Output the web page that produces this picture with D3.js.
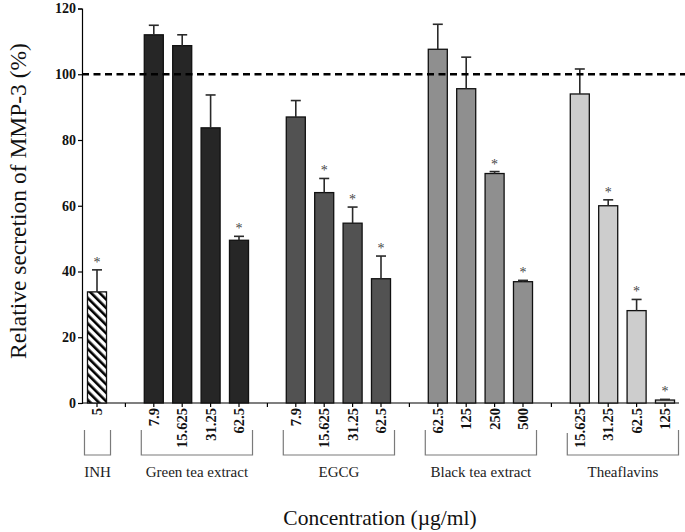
<!DOCTYPE html>
<html>
<head>
<meta charset="utf-8">
<script src="https://cdn.jsdelivr.net/npm/d3@7"></script>
<style>
  html, body { margin: 0; padding: 0; background: #fff; }
  svg { display: block; }
  text { font-family: "Liberation Serif", "Times New Roman", serif; }
</style>
</head>
<body>
<svg id="chart" width="685" height="532"></svg>
<script>
// ---------- data ----------
const groups = ["INH", "Green tea extract", "EGCG", "Black tea extract", "Theaflavins"];
const concentrations = [
  ["5"],
  ["7.9", "15.625", "31.25", "62.5"],
  ["7.9", "15.625", "31.25", "62.5"],
  ["62.5", "125", "250", "500"],
  ["15.625", "31.25", "62.5", "125"]
];
const means = [
  [33.8],
  [112.0, 108.7, 83.7, 49.5],
  [87.0, 64.0, 54.7, 37.8],
  [107.6, 95.6, 69.8, 36.9],
  [94.0, 60.0, 28.1, 0.9]
];
const errors = [
  [6.7],
  [2.9, 3.3, 10.0, 1.2],
  [5.0, 4.3, 4.9, 6.9],
  [7.6, 9.6, 0.6, 0.4],
  [7.6, 1.8, 3.4, 0.2]
];
const significant = [
  [true],
  [false, false, false, true],
  [false, true, true, true],
  [false, false, true, true],
  [false, true, true, true]
];
const groupColors = ["url(#hatch)", "#262626", "#525252", "#8f8f8f", "#cdcdcd"];
const yTicks = [0, 20, 40, 60, 80, 100, 120];
const referenceLevel = 100;
const yTitle = "Relative secretion of MMP-3 (%)";
const xTitle = "Concentration (\u00b5g/ml)";

// ---------- build slots ----------
const slots = [];
const bars = [];
groups.forEach((g, gi) => {
  if (gi > 0) slots.push("gap" + gi);
  concentrations[gi].forEach((c, ci) => {
    const id = g + "|" + c;
    slots.push(id);
    bars.push({ id, group: gi, label: c, value: means[gi][ci], err: errors[gi][ci], sig: significant[gi][ci] });
  });
});

const svg = d3.select("#chart");
const defs = svg.append("defs");
const pat = defs.append("pattern")
  .attr("id", "hatch").attr("patternUnits", "userSpaceOnUse")
  .attr("width", 6).attr("height", 6)
  .attr("patternTransform", "rotate(-45)");
pat.append("rect").attr("width", 6).attr("height", 6).attr("fill", "#fff");
pat.append("rect").attr("x", 0).attr("y", 0).attr("width", 2.6).attr("height", 6).attr("fill", "#000");

const x = d3.scaleBand().domain(slots).range([82.8, 679.2]).paddingInner(0.33).paddingOuter(0.165);
const y = d3.scaleLinear().domain([0, 120]).range([403, 8.5]);
const axisX0 = 82;

// Y axis
const yAxis = svg.append("g").attr("transform", `translate(${axisX0},0)`)
  .call(d3.axisLeft(y).tickValues(yTicks).tickSize(4).tickPadding(2).tickFormat(d3.format("d")));
yAxis.select(".domain").attr("stroke", "#000").attr("stroke-width", 1.2);
yAxis.selectAll(".tick line").attr("stroke", "#000").attr("stroke-width", 1.2);
yAxis.selectAll(".tick text").attr("font-size", 14).attr("font-weight", "bold")
  .attr("font-family", "Liberation Serif, serif").attr("fill", "#111");

// X axis
const xAxis = svg.append("g").attr("transform", `translate(0,${y(0)})`)
  .call(d3.axisBottom(x).tickSize(4).tickFormat(d => {
    const b = bars.find(bb => bb.id === d);
    return b ? b.label : "";
  }));
xAxis.select(".domain").attr("d", `M${axisX0},0H679`).attr("stroke", "#000").attr("stroke-width", 1.2);
xAxis.selectAll(".tick line").attr("stroke", "#000").attr("stroke-width", 1.2);
xAxis.selectAll(".tick text")
  .attr("font-size", 14.5).attr("font-weight", "bold").attr("font-family", "Liberation Serif, serif")
  .attr("fill", "#111")
  .attr("transform", "rotate(-90)")
  .attr("text-anchor", "end")
  .attr("x", -5).attr("y", 0).attr("dy", "0.35em");

// Bars
svg.append("g").selectAll("rect").data(bars).join("rect")
  .attr("x", d => x(d.id))
  .attr("width", x.bandwidth())
  .attr("y", d => y(d.value))
  .attr("height", d => y(0) - y(d.value))
  .attr("fill", d => groupColors[d.group])
  .attr("stroke", "#111").attr("stroke-width", 1.3);

// Error bars
const eg = svg.append("g").attr("stroke", "#2a2a2a").attr("stroke-width", 1.6);
bars.forEach(d => {
  const cx = x(d.id) + x.bandwidth() / 2;
  eg.append("line").attr("x1", cx).attr("x2", cx).attr("y1", y(d.value)).attr("y2", y(d.value + d.err));
  eg.append("line").attr("x1", cx - 5).attr("x2", cx + 5).attr("y1", y(d.value + d.err)).attr("y2", y(d.value + d.err));
});

// Significance stars
svg.append("g").attr("opacity", 0.99).selectAll("text").data(bars.filter(d => d.sig)).join("text")
  .attr("x", d => x(d.id) + x.bandwidth() / 2)
  .attr("y", d => y(d.value + d.err) - 3)
  .attr("text-anchor", "middle").attr("font-size", 14).attr("fill", "#444")
  .text("*");

// Reference dashed line
svg.append("line").attr("x1", axisX0).attr("x2", 685)
  .attr("y1", y(referenceLevel)).attr("y2", y(referenceLevel))
  .attr("stroke", "#000").attr("stroke-width", 2.4).attr("stroke-dasharray", "7,4.5");

// Group brackets and labels
const bg = svg.append("g");
groups.forEach((g, gi) => {
  const gb = bars.filter(b => b.group === gi);
  const x0 = x(gb[0].id) - 3;
  const x1 = x(gb[gb.length - 1].id) + x.bandwidth() + 4;
  const topL = (gi === 4) ? 433 : 430;
  bg.append("path")
    .attr("d", `M${x0},${topL}V455H${x1}V430`)
    .attr("fill", "none").attr("stroke", "#7a7a7a").attr("stroke-width", 1.2);
  bg.append("text").attr("x", (x0 + x1) / 2).attr("y", 477)
    .attr("text-anchor", "middle").attr("font-size", 15).attr("fill", "#222").text(g);
});

// Axis titles
svg.append("text").attr("transform", "translate(26,201) rotate(-90)")
  .attr("text-anchor", "middle").attr("font-size", 23.5).attr("fill", "#111").text(yTitle);
svg.append("text").attr("x", 380).attr("y", 525)
  .attr("text-anchor", "middle").attr("font-size", 21.5).attr("fill", "#111").text(xTitle);
</script>
</body>
</html>
